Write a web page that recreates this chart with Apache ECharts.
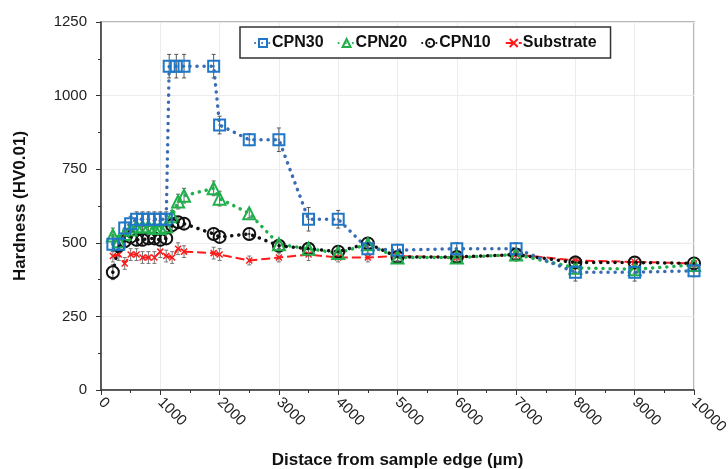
<!DOCTYPE html>
<html>
<head>
<meta charset="utf-8">
<script src="https://cdn.jsdelivr.net/npm/echarts@6/dist/echarts.min.js"></script>
<style>
  html, body { margin: 0; padding: 0; background: #fff; }
  #chart { width: 728px; height: 469px; }
</style>
</head>
<body>
<div id="chart"></div>
<script>
// 数据：距边缘距离 (µm) 与硬度
var cpn30X = [200, 300, 400, 500, 600, 700, 800, 900, 1000, 1100, 1150, 1270, 1400, 1900, 2000, 2500, 3000, 3500, 4000, 4500, 5000, 6000, 7000, 8000, 9000, 10000];
var cpn30Y = [495, 495, 550, 565, 580, 580, 580, 580, 580, 580, 1100, 1100, 1100, 1100, 900, 850, 850, 580, 580, 480, 475, 480, 480, 400, 400, 405];
var cpn30Err = [25, 20, 20, 25, 25, 25, 25, 25, 25, 25, 40, 40, 40, 40, 30, 20, 40, 40, 30, 20, 20, 20, 20, 30, 30, 20];

var cpn20X = [200, 300, 400, 500, 600, 700, 800, 900, 1000, 1100, 1200, 1300, 1400, 1900, 2000, 2500, 3000, 3500, 4000, 4500, 5000, 6000, 7000, 8000, 9000, 10000];
var cpn20Y = [525, 505, 530, 545, 555, 555, 555, 550, 550, 555, 590, 640, 660, 685, 650, 600, 495, 480, 465, 495, 450, 450, 460, 415, 410, 425];
var cpn20Err = [25, 20, 20, 25, 25, 25, 25, 25, 25, 25, 20, 25, 25, 25, 25, 15, 15, 15, 15, 15, 15, 15, 15, 15, 15, 10];

var cpn10X = [200, 300, 400, 500, 600, 700, 800, 900, 1000, 1100, 1200, 1300, 1400, 1900, 2000, 2500, 3000, 3500, 4000, 4500, 5000, 6000, 7000, 8000, 9000, 10000];
var cpn10Y = [400, 490, 505, 520, 510, 510, 515, 515, 510, 515, 560, 570, 565, 530, 520, 530, 490, 480, 470, 498, 452, 452, 460, 433, 433, 430];
var cpn10Err = [25, 20, 20, 20, 20, 20, 20, 20, 20, 20, 20, 20, 20, 20, 20, 20, 15, 15, 15, 15, 15, 15, 15, 15, 20, 10];

var subX = [200, 300, 400, 500, 600, 700, 800, 900, 1000, 1100, 1200, 1300, 1400, 1900, 2000, 2500, 3000, 3500, 4000, 4500, 5000, 6000, 7000, 8000, 9000, 10000];
var subY = [455, 460, 430, 460, 460, 450, 450, 450, 470, 455, 450, 480, 470, 465, 460, 440, 450, 460, 450, 450, 455, 450, 460, 440, 435, 430];
var subErr = [20, 20, 20, 20, 20, 20, 20, 20, 20, 20, 20, 20, 20, 20, 20, 15, 15, 20, 15, 15, 15, 15, 15, 15, 15, 10];

var xTicks = [0, 1000, 2000, 3000, 4000, 5000, 6000, 7000, 8000, 9000, 10000];
var yTicks = [0, 250, 500, 750, 1000, 1250];

function pairs(xs, ys) {
    var out = [];
    for (var i = 0; i < xs.length; i++) out.push([xs[i], ys[i]]);
    return out;
}
function errData(xs, ys, es) {
    var out = [];
    for (var i = 0; i < xs.length; i++) out.push([xs[i], ys[i] - es[i], ys[i] + es[i]]);
    return out;
}

// 误差棒
function errSeries(xs, ys, es, color) {
    return {
        type: 'custom',
        data: errData(xs, ys, es),
        encode: { x: 0, y: [1, 2] },
        z: 1,
        silent: true,
        renderItem: function (params, api) {
            var lo = api.coord([api.value(0), api.value(1)]);
            var hi = api.coord([api.value(0), api.value(2)]);
            var w = 2;
            var st = { stroke: color, lineWidth: 1 };
            return {
                type: 'group',
                children: [
                    { type: 'line', shape: { x1: lo[0], y1: lo[1], x2: hi[0], y2: hi[1] }, style: st },
                    { type: 'line', shape: { x1: lo[0] - w, y1: lo[1], x2: lo[0] + w, y2: lo[1] }, style: st },
                    { type: 'line', shape: { x1: hi[0] - w, y1: hi[1], x2: hi[0] + w, y2: hi[1] }, style: st }
                ]
            };
        }
    };
}

// 中心小点
function dotSeries(xs, ys, color) {
    return {
        type: 'scatter',
        data: pairs(xs, ys),
        symbol: 'circle',
        symbolSize: 2.5,
        itemStyle: { color: color },
        z: 4,
        silent: true
    };
}

var blue = '#1f77c8';
var blueLine = '#3a6cb4';
var green = '#1fb04c';
var black = '#111111';
var red = '#ff1a1a';

var chart = echarts.init(document.getElementById('chart'));
chart.setOption({
    animation: false,
    textStyle: { fontFamily: 'Liberation Sans, Arial, sans-serif' },
    grid: {
        left: 101, right: 34, top: 22, bottom: 79,
        outerBoundsMode: 'none',
        containLabel: false,
        show: true, borderColor: '#a0a0a0', borderWidth: 1.5
    },
    legend: {
        data: ['CPN30', 'CPN20', 'CPN10', 'Substrate'],
        left: 240, top: 27,
        width: 372,
        padding: [8, 14, 7, 14],
        itemGap: 14,
        itemWidth: 16, itemHeight: 10,
        borderColor: '#333', borderWidth: 1.5,
        backgroundColor: '#fff',
        textStyle: { fontSize: 16, fontWeight: 'bold', color: '#111', padding: [0, 0, 0, -4] }
    },
    xAxis: {
        type: 'value',
        min: 0, max: 10000, interval: 1000,
        name: 'Distace from sample edge (µm)',
        nameLocation: 'middle',
        nameGap: 62,
        nameTextStyle: { fontSize: 17, fontWeight: 'bold', color: '#111' },
        axisLine: { show: true, lineStyle: { color: '#333', width: 1.5 } },
        axisTick: { show: true, length: 5, lineStyle: { color: '#333' } },
        minorTick: { show: true, splitNumber: 2, length: 3, lineStyle: { color: '#333' } },
        splitLine: { show: true, lineStyle: { color: '#ececec' } },
        axisLabel: {
            rotate: -45, fontSize: 15, color: '#222', margin: 10,
            formatter: function (v) { return xTicks.indexOf(v) >= 0 ? String(v) : ''; }
        }
    },
    yAxis: {
        type: 'value',
        min: 0, max: 1250, interval: 250,
        name: 'Hardness (HV0.01)',
        nameLocation: 'middle',
        nameGap: 72,
        nameTextStyle: { fontSize: 17, fontWeight: 'bold', color: '#111' },
        axisLine: { show: true, lineStyle: { color: '#333', width: 1.5 } },
        axisTick: { show: true, length: 5, lineStyle: { color: '#333' } },
        minorTick: { show: true, splitNumber: 2, length: 3, lineStyle: { color: '#333' } },
        splitLine: { show: true, lineStyle: { color: '#ececec' } },
        axisLabel: {
            fontSize: 15, color: '#222', margin: 14,
            formatter: function (v) { return yTicks.indexOf(v) >= 0 ? String(v) : ''; }
        }
    },
    series: [
        errSeries(cpn30X, cpn30Y, cpn30Err, '#555'),
        errSeries(cpn20X, cpn20Y, cpn20Err, '#666'),
        errSeries(cpn10X, cpn10Y, cpn10Err, '#555'),
        errSeries(subX, subY, subErr, '#777'),
        {
            name: 'Substrate', type: 'line', data: pairs(subX, subY), z: 2,
            symbol: 'path://M0,0 L10,10 M10,0 L0,10', symbolSize: 6,
            itemStyle: { color: red, borderColor: red, borderWidth: 1.5 },
            lineStyle: { color: red, width: 2, type: [9, 4] }
        },
        {
            name: 'CPN10', type: 'line', data: pairs(cpn10X, cpn10Y), z: 3,
            symbol: 'circle', symbolSize: 12,
            itemStyle: { color: 'rgba(255,255,255,0)', borderColor: black, borderWidth: 2 },
            lineStyle: { color: black, width: 3.5, type: [0.1, 7], cap: 'round' }
        },
        {
            name: 'CPN20', type: 'line', data: pairs(cpn20X, cpn20Y), z: 3,
            symbol: 'triangle', symbolSize: 12,
            itemStyle: { color: 'rgba(255,255,255,0)', borderColor: green, borderWidth: 2 },
            lineStyle: { color: green, width: 3.5, type: [0.1, 7], cap: 'round' }
        },
        {
            name: 'CPN30', type: 'line', data: pairs(cpn30X, cpn30Y), z: 3,
            symbol: 'rect', symbolSize: 11,
            itemStyle: { color: 'rgba(255,255,255,0)', borderColor: blue, borderWidth: 2 },
            lineStyle: { color: blueLine, width: 3.5, type: [0.1, 7], cap: 'round' }
        },
        dotSeries(cpn30X, cpn30Y, blue),
        dotSeries(cpn10X, cpn10Y, black)
    ]
});
</script>
</body>
</html>
